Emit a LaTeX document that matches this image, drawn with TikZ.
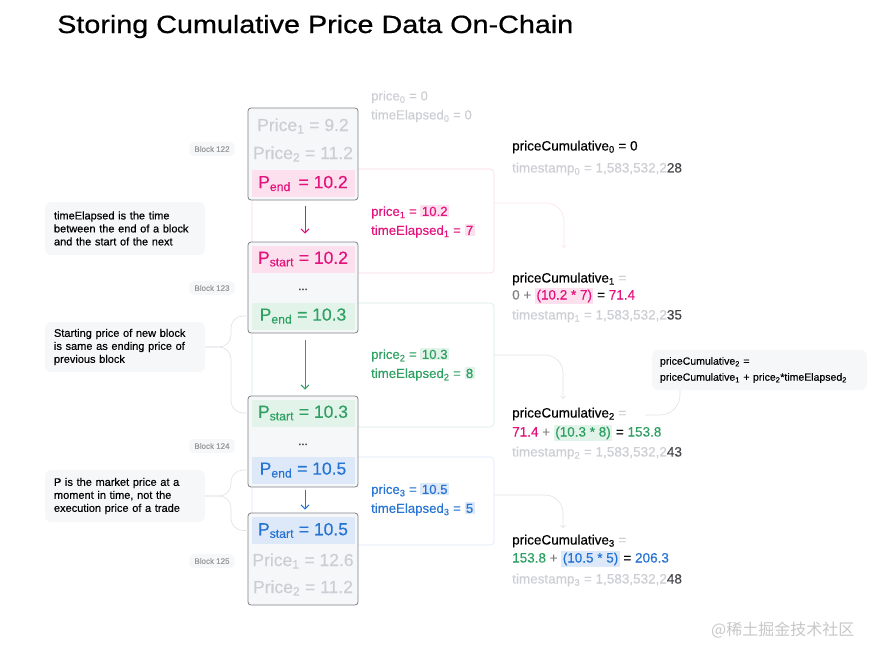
\documentclass[tikz,border=0pt]{standalone}
\usepackage{fontspec}
\setmainfont{Liberation Sans}[FakeBold=0.35]
\newfontfamily\titlefont{Liberation Sans}[FakeBold=0.6]
\newfontfamily\cjk{Noto Sans CJK SC}
\usepackage{tikz}
\usetikzlibrary{arrows.meta,positioning,calc}
\usepackage{xcolor}
\definecolor{pinkc}{RGB}{228,18,125}
\definecolor{pinkbg}{RGB}{252,224,237}
\definecolor{greenc}{RGB}{45,160,98}
\definecolor{greenbg}{RGB}{226,243,233}
\definecolor{bluec}{RGB}{37,115,210}
\definecolor{bluebg}{RGB}{221,233,249}
\definecolor{fadetext}{RGB}{205,206,211}
\definecolor{blockfill}{RGB}{246,247,249}
\definecolor{blockline}{RGB}{125,128,135}
\definecolor{notefill}{RGB}{246,247,249}
\definecolor{linkgrey}{RGB}{226,228,232}
\definecolor{darkdigits}{RGB}{70,70,75}
\newcommand{\hlbox}[2]{{\setlength{\fboxsep}{1.4pt}\colorbox{#1}{#2}}}
\newcommand{\sub}[1]{\textsubscript{#1}}

\tikzset{
    blockbox/.style={draw=blockline, fill=blockfill, line width=0.8pt, rounded corners=3pt,
        minimum width=110pt, inner sep=0pt},
    row/.style={minimum width=103pt, minimum height=27pt, inner sep=0pt,
        font=\fontsize{17.5}{18}\selectfont},
    fadedrow/.style={row, text=fadetext},
    panel/.style={line width=0.6pt, rounded corners=4pt, minimum width=242pt, inner sep=0pt},
    paneltext/.style={anchor=west, inner sep=0pt, font=\fontsize{13.2}{15}\selectfont},
    cumtext/.style={anchor=west, inner sep=0pt, font=\fontsize{13.5}{15}\selectfont},
    note/.style={fill=notefill, rounded corners=6pt, text width=142pt, inner xsep=9pt,
        minimum width=160pt, align=left, font=\fontsize{11}{13}\selectfont},
    blocklabel/.style={fill=notefill, rounded corners=4pt, inner xsep=5pt, inner ysep=4pt,
        text=black!40, font=\fontsize{8}{9}\selectfont},
    flowarrow/.style={line width=1pt, -{Straight Barb[length=4pt,width=8pt]}},
    link/.style={draw=linkgrey, line width=0.7pt, rounded corners=18pt,
        -{Straight Barb[length=2.5pt,width=5pt]}},
    brace/.style={draw=linkgrey, line width=0.7pt, rounded corners=12pt}
}

\begin{document}
\begin{tikzpicture}[x=1pt, y=-1pt]
    \useasboundingbox (0,0) rectangle (891,659);

    % title
    \node[anchor=base west, inner sep=0pt, font=\titlefont\fontsize{25}{28}\selectfont] (title) at (57,33)
        {\scalebox{1.15}[1]{Storing Cumulative Price Data On-Chain}};

    % panels behind the blocks
    \node[panel, draw=pinkc!18, minimum height=104pt] (pan1) at (373,221) {};
    \node[panel, draw=greenc!20, minimum height=124pt] (pan2) at (373,365) {};
    \node[panel, draw=bluec!16, minimum height=88pt] (pan3) at (373,501) {};

    % notes on the left
    \node[note, minimum height=53pt] (n1) at (125,228.5)
        {timeElapsed is the time\\between the end of a block\\and the start of the next};
    \node[note, minimum height=50pt] (n2) at (125,347)
        {Starting price of new block\\is same as ending price of\\previous block};
    \node[note, minimum height=52pt] (n3) at (125,496)
        {P is the market price at a\\moment in time, not the\\execution price of a trade};

    % blocks
    \node[blockbox, minimum height=92pt] (b122) at (303,154) {};
    \node[blockbox, minimum height=91pt] (b123) at (303,287.5) {};
    \node[blockbox, minimum height=91pt] (b124) at (303,441.5) {};
    \node[blockbox, minimum height=92pt] (b125) at (303,559) {};

    \foreach \n/\y in {122/149,123/288,124/446,125/561} {
        \node[blocklabel] (lab\n) at (212,\y) {Block \n};
    }

    % braces from notes to blocks
    \draw[brace] (n2.east) -- (231,347) |- (b123.west |- 248,316);
    \draw[brace] (n2.east) -- (231,347) |- (b124.west |- 248,413);
    \draw[brace] (n3.east) -- (231,496) |- (b124.west |- 248,470);
    \draw[brace] (n3.east) -- (231,496) |- (b125.west |- 248,530.5);

    % rows of block 122
    \node[fadedrow] (r122a) at (303,126) {Price\sub{1} = 9.2};
    \node[fadedrow] (r122b) at (303,154) {Price\sub{2} = 11.2};
    \node[row, fill=pinkbg, text=pinkc] (e122) at (303,183.5) {P\sub{end}\, = 10.2};
    % block 123
    \node[row, fill=pinkbg, text=pinkc] (s123) at (303,259) {P\sub{start} = 10.2};
    \node[inner sep=0pt, font=\fontsize{6}{6}\selectfont, text=black!70] (d123) at (303,290) {•\,•\,•};
    \node[row, fill=greenbg, text=greenc] (e123) at (303,316) {P\sub{end} = 10.3};
    % block 124
    \node[row, fill=greenbg, text=greenc] (s124) at (303,413) {P\sub{start} = 10.3};
    \node[inner sep=0pt, font=\fontsize{6}{6}\selectfont, text=black!70] (d124) at (303,445) {•\,•\,•};
    \node[row, fill=bluebg, text=bluec] (e124) at (303,470) {P\sub{end} = 10.5};
    % block 125
    \node[row, fill=bluebg, text=bluec] (s125) at (303,530.5) {P\sub{start} = 10.5};
    \node[fadedrow] (r125a) at (303,561) {Price\sub{1} = 12.6};
    \node[fadedrow] (r125b) at (303,588) {Price\sub{2} = 11.2};

    % arrows between blocks
    \draw[flowarrow, pinkc] ([xshift=2pt,yshift=-6pt]b122.south) -- ([xshift=2pt,yshift=8pt]b123.north);
    \draw[flowarrow, greenc] ([xshift=2pt,yshift=-7pt]b123.south) -- ([xshift=2pt,yshift=6pt]b124.north);
    \draw[flowarrow, bluec] ([xshift=2pt,yshift=-3pt]b124.south) -- ([xshift=2pt,yshift=3pt]b125.north);

    % price / timeElapsed
    \node[paneltext, text=fadetext] (p0) at (371,97) {price\sub{0} = 0};
    \node[paneltext, text=fadetext] (t0) at (371,116) {timeElapsed\sub{0} = 0};
    \node[paneltext, text=pinkc] (p1) at (371,212) {price\sub{1} = \hlbox{pinkbg}{10.2}};
    \node[paneltext, text=pinkc] (t1) at (371,231) {timeElapsed\sub{1} = \hlbox{pinkbg}{7}};
    \node[paneltext, text=greenc] (p2) at (371,355) {price\sub{2} = \hlbox{greenbg}{10.3}};
    \node[paneltext, text=greenc] (t2) at (371,374) {timeElapsed\sub{2} = \hlbox{greenbg}{8}};
    \node[paneltext, text=bluec] (p3) at (371,490) {price\sub{3} = \hlbox{bluebg}{10.5}};
    \node[paneltext, text=bluec] (t3) at (371,509) {timeElapsed\sub{3} = \hlbox{bluebg}{5}};

    % cumulative values
    \node[cumtext] (c0) at (512,147) {priceCumulative\sub{0} = 0};
    \node[cumtext, text=fadetext] (ts0) at (512,169) {timestamp\sub{0} = 1,583,532,2\textcolor{darkdigits}{28}};
    \node[cumtext] (c1) at (512,279) {priceCumulative\sub{1} \textcolor{fadetext}{=}};
    \node[cumtext] (c1v) at (512,296) {\textcolor{black!50}{0 +} \textcolor{pinkc}{\hlbox{pinkbg}{(10.2 * 7)}} = \textcolor{pinkc}{71.4}};
    \node[cumtext, text=fadetext] (ts1) at (512,316) {timestamp\sub{1} = 1,583,532,2\textcolor{darkdigits}{35}};
    \node[cumtext] (c2) at (512,414) {priceCumulative\sub{2} \textcolor{fadetext}{=}};
    \node[cumtext] (c2v) at (512,433) {\textcolor{pinkc}{71.4} \textcolor{black!50}{+} \textcolor{greenc}{\hlbox{greenbg}{(10.3 * 8)}} = \textcolor{greenc}{153.8}};
    \node[cumtext, text=fadetext] (ts2) at (512,453) {timestamp\sub{2} = 1,583,532,2\textcolor{darkdigits}{43}};
    \node[cumtext] (c3) at (512,541) {priceCumulative\sub{3} \textcolor{fadetext}{=}};
    \node[cumtext] (c3v) at (512,559) {\textcolor{greenc}{153.8} \textcolor{black!50}{+} \textcolor{bluec}{\hlbox{bluebg}{(10.5 * 5)}} = \textcolor{bluec}{206.3}};
    \node[cumtext, text=fadetext] (ts3) at (512,580) {timestamp\sub{3} = 1,583,532,2\textcolor{darkdigits}{48}};

    % links from panels to cumulative values
    \coordinate (k1) at (564,248);
    \coordinate (k2) at (563,399);
    \coordinate (k3) at (563,528);
    \draw[link, draw=pinkc!12] (pan1.east |- 494,203) -| (k1);
    \draw[link] (pan2.east |- 494,355) -| (k2);
    \draw[link] (pan3.east |- 494,495) -| (k3);

    % formula callout
    \node[fill=notefill, rounded corners=6pt, minimum width=215pt, minimum height=40pt,
        text width=199pt, align=left, font=\fontsize{10.5}{16}\selectfont] (fx) at (759.5,370)
        {priceCumulative\sub{2} =\\priceCumulative\sub{1} + price\sub{2}*timeElapsed\sub{2}};
    \coordinate (k4) at (645,415);
    \draw[brace, rounded corners=20pt] (fx.south -| 680,0) |- (k4);

    % watermark
    \node[anchor=west, inner sep=0pt, text=black!22, font=\cjk\fontsize{16}{18}\selectfont] (wm) at (711,630) {@稀土掘金技术社区};
\end{tikzpicture}
\end{document}
